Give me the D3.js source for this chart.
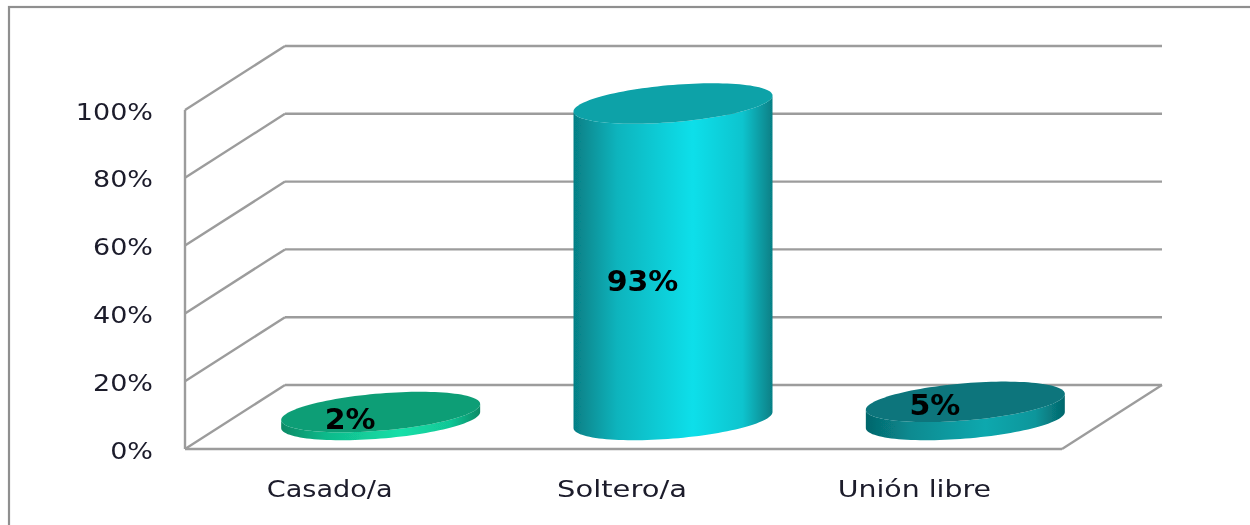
<!DOCTYPE html>
<html><head><meta charset="utf-8">
<script src="https://cdn.jsdelivr.net/npm/d3@7/dist/d3.min.js"></script>
<style>html,body{margin:0;padding:0;background:#fff}svg{display:block}</style>
</head><body><svg id="c" width="1250" height="525"></svg>
<script>
const categories = ["Casado/a", "Soltero/a", "Unión libre"];
const values = [2, 93, 5];
const tickValues = [0, 20, 40, 60, 80, 100];
const topColors = ["#0F9E76", "#0AA2A8", "#07757B"];
const edgeColors = ["#0B8A66", "#067F85", "#05666B"];
const lightColors = ["#14DFA8", "#10DFEA", "#0BA8AE"];

const depthX = 100, depthY = -64;
const x = d3.scaleBand().domain(categories).range([185, 1062]);
const y = d3.scaleLinear().domain([0, 100]).range([449, 110]);
const svg = d3.select("#c");
const defs = svg.append("defs");

const blur = defs.append("filter").attr("id", "soft").attr("filterUnits", "userSpaceOnUse")
  .attr("x", 0).attr("y", 0).attr("width", 1250).attr("height", 525);
blur.append("feGaussianBlur").attr("stdDeviation", 0.7);

categories.forEach((c, i) => {
  const g = defs.append("linearGradient").attr("id", "side" + i);
  [[0, edgeColors[i]], [0.22, d3.interpolateRgb(edgeColors[i], lightColors[i])(0.55)],
   [0.6, lightColors[i]], [0.85, d3.interpolateRgb(edgeColors[i], lightColors[i])(0.72)], [1, edgeColors[i]]]
    .forEach(s => g.append("stop").attr("offset", s[0]).attr("stop-color", s[1]));
});

const root = svg.append("g").attr("filter", "url(#soft)");

// outer frame: top and left edges run off the picture
root.append("rect").attr("x", 9).attr("y", 7).attr("width", 1260).attr("height", 540)
  .attr("fill", "#fff").attr("stroke", "#8f8f8f").attr("stroke-width", 2.2);

// walls and gridlines
const gridColor = "#9c9c9c";
const frontL = x.range()[0], frontR = x.range()[1];
const line = (g, x1, y1, x2, y2) => g.append("line")
  .attr("x1", x1).attr("y1", y1).attr("x2", x2).attr("y2", y2)
  .attr("stroke", gridColor).attr("stroke-width", 2.4);
const grid = root.append("g");
tickValues.forEach(t => {
  line(grid, frontL, y(t), frontL + depthX, y(t) + depthY);
  line(grid, frontL + depthX, y(t) + depthY, frontR + depthX, y(t) + depthY);
});
line(grid, frontL, y(0), frontL, y(100));
line(grid, frontL, y(0), frontR, y(0));
line(grid, frontR, y(0), frontR + depthX, y(0) + depthY);

// cylinders
const rx = 99.5, ry = 18.6, skew = 8;
const pt = (cx, cy, a) => [cx + rx * Math.cos(a), cy + ry * Math.sin(a) - skew * Math.cos(a)];
const angles = d3.range(0, 361, 3).map(d => d * Math.PI / 180);
const path = d3.line();
const baseY = v => y(v) + depthY / 2 + 3;
const topLift = 1.2;

const bars = root.append("g");
categories.forEach((c, i) => {
  const cx = x(c) + x.bandwidth() / 2 + depthX / 2 - 0.5;
  const by = baseY(0), ty = baseY(values[i]) - topLift;
  const front = angles.filter(a => a <= Math.PI);
  const sidePts = front.map(a => pt(cx, by, a)).concat(front.slice().reverse().map(a => pt(cx, ty, a)));
  bars.append("path").attr("d", path(sidePts) + "Z").attr("fill", `url(#side${i})`);
  bars.append("path").attr("d", path(angles.map(a => pt(cx, ty, a))) + "Z").attr("fill", topColors[i]);
});

// text
const text = (sx, sy, str, size, weight, anchor, fill, scaleX) => root.append("text")
  .attr("transform", `translate(${sx},${sy}) scale(${scaleX},1)`)
  .attr("font-family", "'DejaVu Sans', sans-serif")
  .attr("font-size", size).attr("font-weight", weight)
  .attr("text-anchor", anchor).attr("dominant-baseline", "central")
  .attr("fill", fill).text(str);

tickValues.forEach(t => text(153, y(t) + 2, t + "%", 22.5, "normal", "end", "#1a1a2a", 1.2));
const categoryStretch = [1.18, 1.26, 1.235];
categories.forEach((c, i) => text(x(c) + x.bandwidth() / 2 - 1.5, 489, c, 23, "normal", "middle", "#1a1a2a", categoryStretch[i]));

const labelDx = -31;
const labelDy = [2.5, 19, -6];
categories.forEach((c, i) => {
  const cx = x(c) + x.bandwidth() / 2 + depthX / 2;
  const mid = (baseY(0) + baseY(values[i])) / 2;
  text(cx + labelDx, mid + labelDy[i], values[i] + "%", 28, "bold", "middle", "#000", 1.07);
});
</script></body></html>
